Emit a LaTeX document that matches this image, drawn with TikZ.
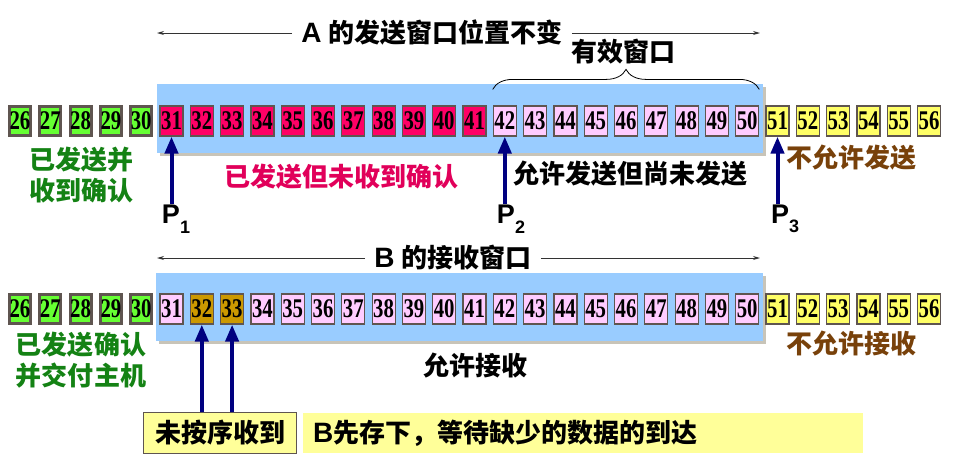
\documentclass[tikz,border=0pt]{standalone}
\usepackage{fontspec}
\setmainfont{Liberation Sans}
\newfontfamily\cjk{Noto Sans CJK SC}
\newfontfamily\numfont[FakeStretch=0.77]{Liberation Serif}
\usetikzlibrary{positioning,arrows.meta,decorations.pathreplacing}
\definecolor{doneGreen}{RGB}{102,255,51}
\definecolor{doneText}{RGB}{20,130,20}
\definecolor{sentRed}{RGB}{255,0,102}
\definecolor{sentText}{RGB}{225,0,90}
\definecolor{winPink}{RGB}{255,204,255}
\definecolor{outYellow}{RGB}{255,255,102}
\definecolor{gotGold}{RGB}{204,153,0}
\definecolor{winBlue}{RGB}{153,204,255}
\definecolor{shadowGray}{RGB}{200,196,184}
\definecolor{cellLine}{RGB}{95,85,80}
\definecolor{noBrown}{RGB}{120,65,10}
\definecolor{ptrNavy}{RGB}{0,0,128}
\definecolor{memoYellow}{RGB}{255,255,153}
\newcommand{\psub}[1]{\raisebox{-0.35em}{\fontsize{18}{18}\selectfont #1}}
\newcommand{\bigL}[1]{{\fontsize{28}{31}\selectfont\bfseries #1}}

\begin{document}
\begin{tikzpicture}[x=1pt, y=-1pt,
  cell/.style={draw=cellLine, line width=1.2pt, minimum width=23pt, minimum height=30pt,
               inner sep=0pt, font=\fontsize{27}{27}\numfont\bfseries},
  donecell/.style={cell, fill=doneGreen, line width=3pt, minimum width=21pt, minimum height=29pt},
  sentcell/.style={cell, fill=sentRed},
  wincell/.style={cell, fill=winPink},
  outcell/.style={cell, fill=outYellow},
  gotcell/.style={cell, fill=gotGold},
  lbl/.style={font=\fontsize{26}{31}\selectfont\cjk\bfseries, align=center, inner sep=0pt},
  ttl/.style={font=\fontsize{26}{31}\selectfont, inner xsep=9pt},
  pname/.style={font=\fontsize{27}{27}\selectfont\bfseries, inner sep=1pt},
  ptr/.style={draw=ptrNavy, line width=4pt, -{Triangle[length=17pt,width=13pt]}},
  winspan/.style={draw=black!80, line width=0.9pt, -{Stealth[length=7pt,width=4pt]}},
  note/.style={draw=cellLine, fill=memoYellow, line width=1.2pt, minimum width=153pt,
               minimum height=41pt, font=\fontsize{26}{31}\selectfont\cjk\bfseries}]
  \useasboundingbox (0,0) rectangle (955,456);

  \fill[shadowGray] (159.5,86.5) rectangle (765.5,155.5);
  \fill[winBlue] (157,84) rectangle (763,153);
  \foreach \n in {26,...,30} \node[donecell] (a\n) at ({20+(\n-26)*30.3},121) {\n};
  \foreach \n in {31,...,41} \node[sentcell] (a\n) at ({20+(\n-26)*30.3},121) {\n};
  \foreach \n in {42,...,50} \node[wincell] (a\n) at ({20+(\n-26)*30.3},121) {\n};
  \foreach \n in {51,...,56} \node[outcell] (a\n) at ({20+(\n-26)*30.3},121) {\n};

  \node[ttl] (ta) at (432,33) {\bigL{A} {\cjk\bfseries 的发送窗口位置不变}};
  \coordinate (al) at (157,33);
  \coordinate (ar) at (760,33);
  \draw[winspan] (ta) -- (al);
  \draw[winspan] (ta) -- (ar);
  \draw[decorate, decoration={brace, amplitude=20pt}, line width=0.8pt]
    ([yshift=16pt]a42.north west) -- ([yshift=16pt]a50.north east);
  \node[lbl] (eff) at (623,52) {有效窗口};

  \node[lbl, text=doneText] (adone) at (81,175) {已发送并\\收到确认};
  \node[lbl, text=sentText] (asent) at (341,177) {已发送但未收到确认};
  \node[lbl] (aopen) at (630,174) {允许发送但尚未发送};
  \node[lbl, text=noBrown] (ano) at (851,158) {不允许发送};
  \node[pname] (p1) at (176,219) {P\psub{1}};
  \node[pname] (p2) at (511,219) {P\psub{2}};
  \node[pname] (p3) at (785,219) {P\psub{3}};
  \draw[ptr] (a31 |- p1.north) -- (a31.south);
  \draw[ptr] (a42 |- p2.north) -- (a42.south);
  \draw[ptr] (a51 |- p3.north) -- (a51.south);

  \fill[shadowGray] (158.5,275.5) rectangle (765.5,343.5);
  \fill[winBlue] (156,273) rectangle (763,341);
  \foreach \n in {26,...,30} \node[donecell] (b\n) at ({20+(\n-26)*30.3},309) {\n};
  \node[wincell] (b31) at ({20+5*30.3},309) {31};
  \foreach \n in {32,33} \node[gotcell] (b\n) at ({20+(\n-26)*30.3},309) {\n};
  \foreach \n in {34,...,50} \node[wincell] (b\n) at ({20+(\n-26)*30.3},309) {\n};
  \foreach \n in {51,...,56} \node[outcell] (b\n) at ({20+(\n-26)*30.3},309) {\n};

  \node[ttl] (tb) at (453,258) {\bigL{B} {\cjk\bfseries 的接收窗口}};
  \coordinate (bl) at (157,258);
  \coordinate (br) at (760,258);
  \draw[winspan] (tb) -- (bl);
  \draw[winspan] (tb) -- (br);

  \node[lbl, text=doneText] (bdone) at (81,360) {已发送确认\\并交付主机};
  \node[lbl] (bopen) at (475,366) {允许接收};
  \node[lbl, text=noBrown] (bno) at (851,344) {不允许接收};

  \node[note] (miss) at (220,433) {未按序收到};
  \node[fill=memoYellow, anchor=west, minimum height=40pt, text width=540pt, inner xsep=10pt,
        align=left, font=\fontsize{26}{31}\selectfont] (wait) at (303,433)
        {\bigL{B}{\cjk\bfseries 先存下，等待缺少的数据的到达}};
  \draw[ptr] (b32 |- miss.north) -- (b32.south);
  \draw[ptr] (b33 |- miss.north) -- (b33.south);
\end{tikzpicture}
\end{document}
